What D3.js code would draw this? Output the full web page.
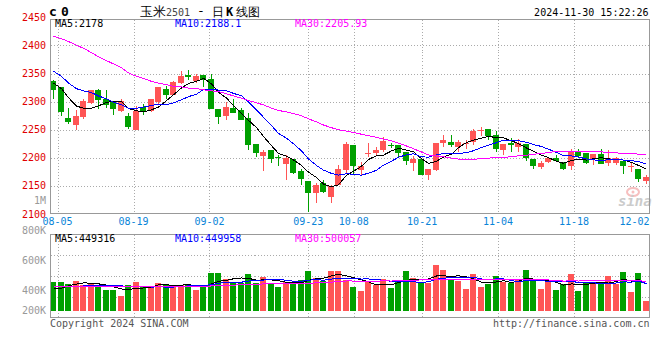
<!DOCTYPE html>
<html><head><meta charset="utf-8">
<script src="https://cdn.jsdelivr.net/npm/d3@7"></script>
<style>
html,body{margin:0;padding:0;background:#fff;}
svg{display:block;}
text{font-family:"DejaVu Sans Mono",monospace;}
</style></head><body>
<svg id="c" width="660" height="360"></svg>
<script>
// ---------- data ----------
const opens=[2336,2326,2271,2259,2273,2298,2320,2304,2299,2284,2275,2249,2291,2284,2299,2323,2312,2333,2347,2336,2347,2341,2286,2274,2289,2285,2271,2225,2204,2213,2202,2189,2197,2176,2159,2137,2156,2131,2152,2179,2222,2179,2207,2208,2214,2223,2222,2211,2191,2197,2169,2179,2227,2228,2220,2224,2228,2248,2251,2241,2213,2226,2220,2224,2197,2183,2192,2199,2192,2185,2210,2208,2197,2207,2191,2191,2195,2183,2180,2159];
const highs=[2338,2326,2289,2285,2304,2321,2323,2320,2301,2305,2279,2292,2295,2305,2326,2327,2336,2354,2357,2350,2347,2349,2286,2299,2305,2288,2279,2225,2214,2213,2205,2205,2197,2180,2159,2155,2161,2152,2188,2229,2222,2192,2227,2219,2237,2227,2222,2211,2204,2197,2180,2227,2241,2241,2232,2232,2252,2255,2251,2248,2224,2235,2233,2224,2197,2194,2201,2205,2192,2216,2216,2208,2207,2216,2214,2201,2195,2192,2180,2169];
const lows=[2305,2274,2261,2249,2269,2296,2286,2289,2277,2282,2252,2249,2277,2282,2296,2305,2311,2332,2338,2333,2326,2286,2261,2267,2280,2267,2213,2202,2177,2191,2185,2161,2172,2152,2104,2120,2138,2119,2151,2172,2169,2170,2201,2203,2211,2217,2202,2188,2176,2169,2161,2176,2219,2219,2211,2216,2223,2238,2232,2211,2205,2211,2211,2194,2180,2180,2191,2192,2179,2179,2202,2189,2188,2189,2185,2188,2172,2175,2157,2154];
const closes=[2320,2281,2264,2275,2301,2320,2302,2294,2286,2301,2254,2284,2284,2304,2326,2311,2335,2346,2343,2345,2338,2286,2272,2290,2280,2268,2223,2208,2211,2198,2199,2199,2173,2163,2138,2152,2140,2149,2180,2225,2185,2186,2209,2214,2230,2222,2209,2194,2198,2170,2180,2227,2232,2223,2228,2226,2248,2250,2239,2216,2224,2222,2226,2199,2186,2191,2199,2195,2180,2210,2204,2191,2207,2189,2199,2199,2186,2185,2163,2165];
const volumes=[483000,483000,454000,505000,437000,466000,420000,352000,352000,255000,437000,483000,408000,408000,466000,437000,428000,437000,454000,352000,398000,646000,646000,539000,483000,466000,624000,476000,573000,476000,408000,483000,483000,522000,680000,561000,510000,680000,680000,522000,408000,340000,493000,437000,539000,391000,522000,680000,561000,466000,466000,777000,692000,522000,510000,369000,624000,403000,454000,590000,483000,466000,522000,692000,522000,369000,483000,352000,454000,619000,335000,466000,466000,493000,590000,454000,663000,323000,641000,165000];
// moving-average values before a full window is available
const ma5Lead=[2333,2323,2307,2292];
const ma10Lead=[2354,2345,2333,2323,2319,2316,2310,2305,2299];
const ma30Lead=[2416,2412,2407,2400,2395,2387,2380,2373,2367,2360,2351,2345,2341,2336,2333,2330,2327,2326,2324,2323,2321,2319,2318,2314,2310,2306,2302,2298,2294];
const vma5Lead=[381000,381000,425000,453000];
const vma10Lead=[408000,408000,410000,415000,420000,420000,420000,420000,420000];
const vma30Lead=[410000,410000,410000,410000,410000,410000,410000,410000,410000,410000,410000,412000,413000,414000,415000,416000,417000,418000,418000,418000,418000,420000,425000,430000,435000,440000,445000,450000,455000];
const priceTicks=[2100,2150,2200,2250,2300,2350,2400,2450];
const dateTickLabels=["08-05","08-19","09-02","09-23","10-08","10-21","11-04","11-18","12-02"];
const dateTickSessions=[1,11,21,34,40,49,59,69,79];
const volTickLabels=["200K","400K","600K","800K","1M"];
const volTickValues=[200000,400000,600000,800000,1000000];
const maLabels=["MA5:2178","MA10:2188.1","MA30:2205.93"];
const volMaLabels=["MA5:449316","MA10:449958","MA30:500057"];
const timestamp="2024-11-30 15:22:26";

// ---------- layout ----------
const L=50.5,R=649.5,mT=19.5,mB=213.5,vT=234.5,vB=317.5;
const UP="#ff5555",DN="#00a000",MAC=["#000000","#0000ff","#ff00ff"];
const svg=d3.select("#c");
const n=closes.length;
const x=d3.scaleBand().domain(d3.range(n)).range([50,648.5]).paddingInner(0.2);
const xt=d3.scaleLinear().domain([0,79]).range([50,650]);
const ys=d3.scaleLinear().domain([2100,2450]).range([214,17.3]);
const yv=d3.scaleLinear().domain([0,1000000]).range([310.7,310.7-1000000/17000]);
const yl=d3.scaleLinear().domain([400000,800000]).range([290.7,230.7]);
const bx=i=>Math.round(x(i));

function ma(arr,k,lead){return arr.map((_,i)=> i<k-1 ? lead[i] : d3.mean(arr.slice(i-k+1,i+1)));}

const grid="#aaaaaa";
const gMain=svg.append("g").attr("shape-rendering","crispEdges");
priceTicks.filter(v=>ys(v)>mT+2&&ys(v)<mB-2).forEach(v=>{
  const yy=Math.round(ys(v))+0.5;
  gMain.append("line").attr("x1",L).attr("x2",R).attr("y1",yy).attr("y2",yy)
   .attr("stroke",grid).attr("stroke-dasharray","1,2");
});
dateTickSessions.forEach(s=>{
  const xx=Math.round(xt(s))+0.5;
  if(xx<R-1){
    gMain.append("line").attr("x1",xx).attr("x2",xx).attr("y1",mT).attr("y2",mB).attr("stroke",grid).attr("stroke-dasharray","1,2");
    gMain.append("line").attr("x1",xx).attr("x2",xx).attr("y1",vT).attr("y2",vB).attr("stroke",grid).attr("stroke-dasharray","1,2");
  }
});
[1,2,3].forEach(k=>{
  const yy=Math.round(vT+(vB-vT)*k/4)+0.5;
  gMain.append("line").attr("x1",L).attr("x2",R).attr("y1",yy).attr("y2",yy).attr("stroke",grid).attr("stroke-dasharray","1,2");
});

// sina watermark
const wm=svg.append("g").attr("opacity",0.5);
wm.append("ellipse").attr("cx",633).attr("cy",192).attr("rx",6).attr("ry",4).attr("fill","none").attr("stroke","#f08080").attr("stroke-width",2);
wm.append("circle").attr("cx",633).attr("cy",192).attr("r",1.5).attr("fill","#f08080");
wm.append("text").attr("x",618).attr("y",206).attr("font-family","DejaVu Sans, sans-serif").attr("font-style","italic").attr("font-weight","bold").attr("font-size",14).attr("fill","#999").text("sina");

// candles
const gC=svg.append("g").attr("shape-rendering","crispEdges");
d3.range(n).forEach(i=>{
  const up=closes[i]>=opens[i], col=up?UP:DN;
  const top=Math.round(ys(Math.max(opens[i],closes[i]))), bot=Math.round(ys(Math.min(opens[i],closes[i])));
  const hT=Math.round(ys(highs[i])), lB=Math.round(ys(lows[i]));
  gC.append("rect").attr("x",bx(i)+3).attr("y",hT).attr("width",1).attr("height",Math.max(1,lB-hT)).attr("fill",col);
  gC.append("rect").attr("x",bx(i)).attr("y",top).attr("width",Math.round(x.bandwidth())).attr("height",Math.max(1,bot-top)).attr("fill",col);
});
const mas=[ma(closes,5,ma5Lead),ma(closes,10,ma10Lead),ma(closes,30,ma30Lead)];
mas.forEach((s,k)=>{
  svg.append("path").datum(s).attr("fill","none").attr("stroke",MAC[k]).attr("stroke-width",1)
    .attr("shape-rendering","crispEdges")
    .attr("d",d3.line().x((d,i)=>bx(i)+3.5).y(d=>ys(d)));
});

// volume bars
const gV=svg.append("g").attr("shape-rendering","crispEdges");
d3.range(n).forEach(i=>{
  const up=closes[i]>=opens[i];
  const t=Math.round(yv(volumes[i])), b=Math.round(yv(0));
  gV.append("rect").attr("x",bx(i)).attr("y",t).attr("width",Math.round(x.bandwidth())).attr("height",b-t).attr("fill",up?UP:DN);
});
const vmas=[ma(volumes,5,vma5Lead),ma(volumes,10,vma10Lead),ma(volumes,30,vma30Lead)];
vmas.forEach((s,k)=>{
  svg.append("path").datum(s).attr("fill","none").attr("stroke",MAC[k]).attr("stroke-width",1)
    .attr("shape-rendering","crispEdges")
    .attr("d",d3.line().x((d,i)=>bx(i)+3.5).y(d=>yv(d)));
});

// borders
const bc="#999999";
svg.append("rect").attr("x",L).attr("y",mT).attr("width",R-L).attr("height",mB-mT).attr("fill","none").attr("stroke",bc).attr("shape-rendering","crispEdges");
svg.append("rect").attr("x",L).attr("y",vT).attr("width",R-L).attr("height",vB-vT).attr("fill","none").attr("stroke",bc).attr("shape-rendering","crispEdges");

priceTicks.forEach(v=>{
  svg.append("text").attr("x",46).attr("y",ys(v)).attr("dy","0.35em").attr("text-anchor","end")
    .attr("font-size",10).attr("fill","#e00000").text(v);
});
volTickValues.forEach((v,k)=>{
  svg.append("text").attr("x",46).attr("y",Math.min(yl(v),310)).attr("dy","0.35em").attr("text-anchor","end")
    .attr("font-size",10).attr("fill","#999").text(volTickLabels[k]);
});
dateTickSessions.forEach((s,k)=>{
  const cx=Math.min(xt(s),R-15);
  svg.append("text").attr("x",cx).attr("y",225).attr("text-anchor","middle").attr("font-size",10).attr("fill","#0a84d8").text(dateTickLabels[k]);
});
[55,175,295].forEach((xx,k)=>{
  svg.append("text").attr("x",xx).attr("y",27).attr("font-size",10).attr("fill",MAC[k]).text(maLabels[k]);
  svg.append("text").attr("x",xx).attr("y",242).attr("font-size",10).attr("fill",MAC[k]).text(volMaLabels[k]);
});
svg.append("text").attr("x",49).attr("y",16).attr("font-size",13).attr("font-weight","bold").attr("fill","#000").text("c");
svg.append("text").attr("x",61).attr("y",16).attr("font-size",13).attr("font-weight","bold").attr("fill","#000").text("0");
const cjk='"Noto Sans CJK SC", sans-serif';
svg.append("text").attr("x",140).attr("y",16).attr("font-family",cjk).attr("font-size",13).attr("fill","#000").text("玉米");
svg.append("text").attr("x",166).attr("y",16).attr("font-family","DejaVu Sans, sans-serif").attr("font-size",10).attr("fill","#444").text("2501");
svg.append("text").attr("x",197).attr("y",15).attr("font-family",cjk).attr("font-size",13).attr("fill","#000").text("-");
svg.append("text").attr("x",212).attr("y",16).attr("font-family",cjk).attr("font-size",12).attr("fill","#000").text("日");
svg.append("text").attr("x",226).attr("y",16).attr("font-family","DejaVu Sans, sans-serif").attr("font-size",12).attr("font-weight","bold").attr("fill","#000").text("K");
svg.append("text").attr("x",236).attr("y",16).attr("font-family",cjk).attr("font-size",12).attr("fill","#000").text("线图");
svg.append("text").attr("x",648.5).attr("y",16).attr("text-anchor","end").attr("font-size",10).attr("fill","#000").text(timestamp);
svg.append("text").attr("x",50).attr("y",327).attr("font-size",10).attr("fill","#555").text("Copyright 2024 SINA.COM");
svg.append("text").attr("x",649.5).attr("y",327).attr("text-anchor","end").attr("font-size",10).attr("fill","#555").text("http://finance.sina.com.cn");
</script>
</body></html>
